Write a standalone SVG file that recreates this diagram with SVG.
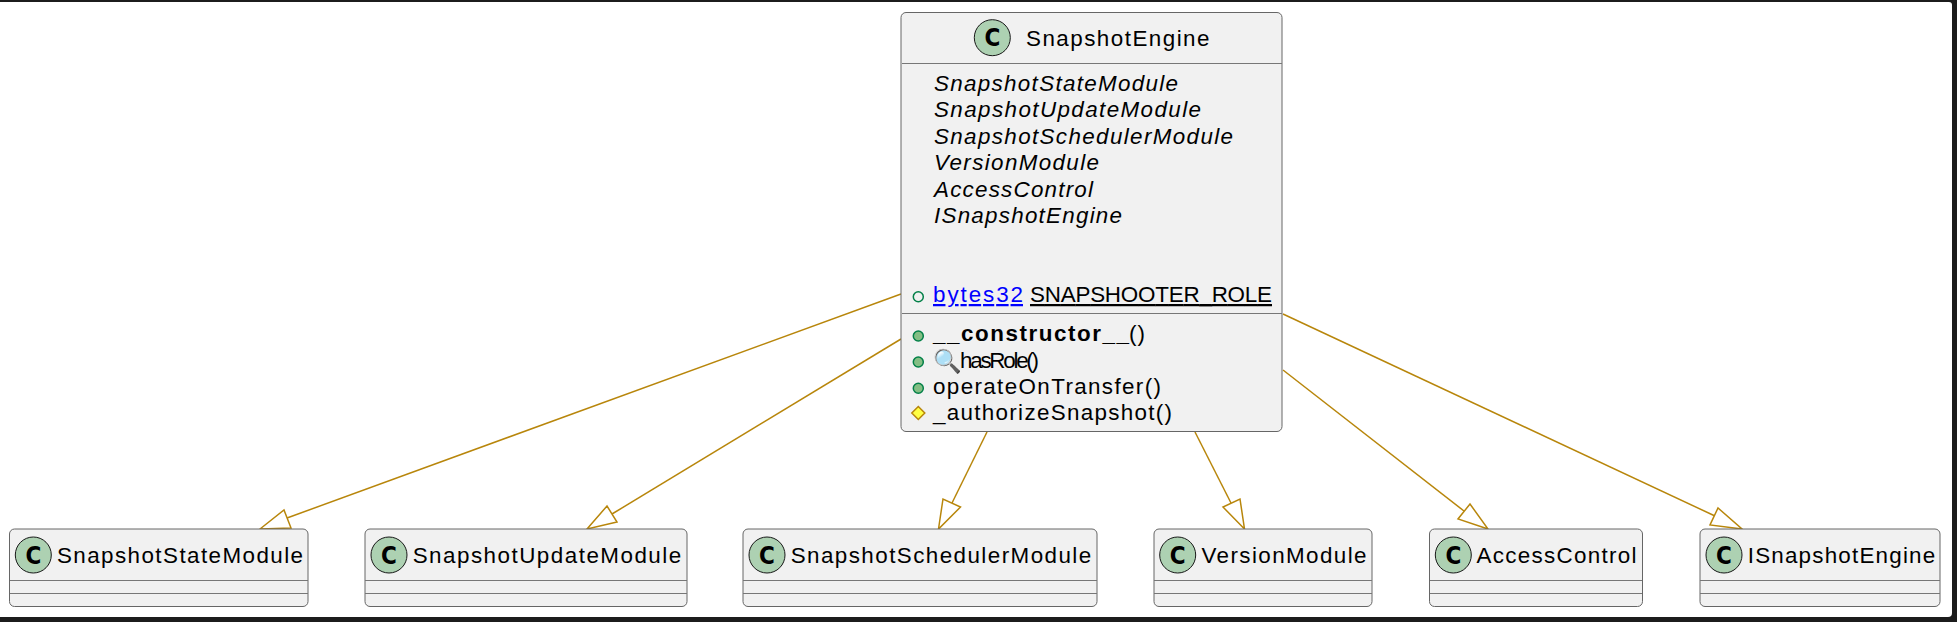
<svg xmlns="http://www.w3.org/2000/svg" width="1957" height="622" viewBox="0 0 1957 622">
<style>
.box{fill:#f1f1f1;stroke:#666;stroke-width:1}
.sep{stroke:#777;stroke-width:1}
.c{fill:#add1b2;stroke:#181818;stroke-width:1}
.cg{font-family:"DejaVu Sans",sans-serif;font-stretch:condensed;font-weight:bold;font-size:24px;fill:#000;text-anchor:middle}
text{font-family:"Liberation Sans",Arial,sans-serif;font-size:22.400px;fill:#000}
.i{font-style:italic}
.u{text-decoration:underline}
.e{fill:none;stroke:#b8860b;stroke-width:1.5}
.h{fill:#fff;stroke:#b8860b;stroke-width:1.5}
.pub{fill:#84be84;stroke:#038048;stroke-width:1.5}
</style>
<rect width="1957" height="622" fill="#1c1c1c"/>
<path d="M0 2H1949Q1952 2 1952 5V613Q1952 617 1948 617H0Z" fill="#fff"/>
<g id="connectors">
<line class="e" x1="901" y1="294" x2="287" y2="518"/><polygon class="h" points="260,529 284,510 291,528"/>
<line class="e" x1="901" y1="339" x2="612" y2="514"/><polygon class="h" points="587,529 607,506 617,522"/>
<line class="e" x1="987" y1="432" x2="952" y2="503"/><polygon class="h" points="938.500,529 943,499 960.500,507"/>
<line class="e" x1="1195" y1="432" x2="1231" y2="503"/><polygon class="h" points="1244.500,529 1223,507 1240,499"/>
<line class="e" x1="1283" y1="370" x2="1464" y2="511"/><polygon class="h" points="1488,529 1458,519 1470,504"/>
<line class="e" x1="1283" y1="314" x2="1715" y2="516"/><polygon class="h" points="1742,529 1710,525 1718,508"/>
</g>
<g id="SnapshotEngine">
<rect class="box" x="901" y="12.500" width="381" height="419" rx="5"/>
<circle class="c" cx="992.300" cy="37.700" r="18"/><text class="cg" x="992.300" y="46.300">C</text>
<text x="1026" y="45.500" textLength="183.500">SnapshotEngine</text>
<line class="sep" x1="902" y1="63.500" x2="1282" y2="63.500"/>
<text class="i" x="934" y="90.700" textLength="244">SnapshotStateModule</text>
<text class="i" x="934" y="117" textLength="267">SnapshotUpdateModule</text>
<text class="i" x="934" y="144" textLength="299">SnapshotSchedulerModule</text>
<text class="i" x="934" y="170" textLength="165">VersionModule</text>
<text class="i" x="934" y="196.700" textLength="159">AccessControl</text>
<text class="i" x="934" y="222.700" textLength="188">ISnapshotEngine</text>
<circle cx="918.300" cy="296.700" r="5" fill="none" stroke="#038048" stroke-width="1.500"/>
<text class="u" x="933" y="302" textLength="90" style="fill:#0000ff">bytes32</text>
<text class="u" x="1030" y="302" textLength="242">SNAPSHOOTER_ROLE</text>
<line class="sep" x1="902" y1="313.500" x2="1282" y2="313.500"/>
<circle class="pub" cx="918.300" cy="336" r="5"/>
<text x="933" y="340.700" textLength="196" style="font-weight:bold">__constructor__</text>
<text x="1129" y="340.700" textLength="16">()</text>
<circle class="pub" cx="918.300" cy="362" r="5"/>
<text x="933" y="369" style="font-size:23px">🔍</text>
<text x="960" y="367.500" textLength="79">hasRole()</text>
<circle class="pub" cx="918.300" cy="388.300" r="5"/>
<text x="933" y="393.500" textLength="228">operateOnTransfer()</text>
<polygon points="918.300,406.500 924.800,413 918.300,419.500 911.800,413" fill="#ffff44" stroke="#b8860b" stroke-width="1.500"/>
<text x="933" y="420" textLength="239">_authorizeSnapshot()</text>
</g>
<g id="SnapshotStateModule"><rect class="box" x="9.500" y="529" width="298.500" height="77.500" rx="5"/><circle class="c" cx="33.300" cy="555" r="18"/><text class="cg" x="33.300" y="563.600">C</text><text x="57" y="562.700" textLength="246">SnapshotStateModule</text><line class="sep" x1="10" y1="580.500" x2="308" y2="580.500"/><line class="sep" x1="10" y1="593.500" x2="308" y2="593.500"/></g>
<g id="SnapshotUpdateModule"><rect class="box" x="365" y="529" width="322" height="77.500" rx="5"/><circle class="c" cx="389" cy="555" r="18"/><text class="cg" x="389" y="563.600">C</text><text x="412.700" y="562.700" textLength="268.500">SnapshotUpdateModule</text><line class="sep" x1="365" y1="580.500" x2="687" y2="580.500"/><line class="sep" x1="365" y1="593.500" x2="687" y2="593.500"/></g>
<g id="SnapshotSchedulerModule"><rect class="box" x="743" y="529" width="354" height="77.500" rx="5"/><circle class="c" cx="767" cy="555" r="18"/><text class="cg" x="767" y="563.600">C</text><text x="790.700" y="562.700" textLength="300.500">SnapshotSchedulerModule</text><line class="sep" x1="743" y1="580.500" x2="1097" y2="580.500"/><line class="sep" x1="743" y1="593.500" x2="1097" y2="593.500"/></g>
<g id="VersionModule"><rect class="box" x="1154" y="529" width="218" height="77.500" rx="5"/><circle class="c" cx="1177.700" cy="555" r="18"/><text class="cg" x="1177.700" y="563.600">C</text><text x="1201.500" y="562.700" textLength="165">VersionModule</text><line class="sep" x1="1154" y1="580.500" x2="1372" y2="580.500"/><line class="sep" x1="1154" y1="593.500" x2="1372" y2="593.500"/></g>
<g id="AccessControl"><rect class="box" x="1429.500" y="529" width="213" height="77.500" rx="5"/><circle class="c" cx="1453.300" cy="555" r="18"/><text class="cg" x="1453.300" y="563.600">C</text><text x="1476.500" y="562.700" textLength="160">AccessControl</text><line class="sep" x1="1430" y1="580.500" x2="1642" y2="580.500"/><line class="sep" x1="1430" y1="593.500" x2="1642" y2="593.500"/></g>
<g id="ISnapshotEngine"><rect class="box" x="1700" y="529" width="240" height="77.500" rx="5"/><circle class="c" cx="1724" cy="555" r="18"/><text class="cg" x="1724" y="563.600">C</text><text x="1747.700" y="562.700" textLength="187.500">ISnapshotEngine</text><line class="sep" x1="1700" y1="580.500" x2="1940" y2="580.500"/><line class="sep" x1="1700" y1="593.500" x2="1940" y2="593.500"/></g>
</svg>
